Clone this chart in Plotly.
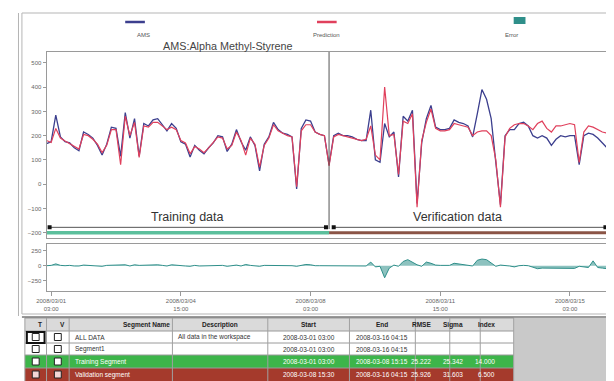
import plotly.graph_objects as go
import pandas as pd

# page body has an 8px margin: figure is shifted by it
OFF = 8
W, H = 614 - OFF, 381 - OFF
FONT = "Liberation Sans, Arial, sans-serif"

# ---------------- data ----------------
start_time = "2008-03-01 00:00"
n_points = 122
times = pd.date_range(start_time, periods=n_points, freq="3h")

ams = [167,175,285,195,175,170,150,138,215,205,190,160,120,165,235,230,115,295,190,270,
       115,250,240,265,270,245,220,250,230,175,165,112,160,140,125,150,170,200,195,135,
       165,225,175,140,195,160,55,165,195,255,225,210,205,195,-20,230,265,260,215,205,200,
       80,200,210,200,200,195,185,180,180,305,100,90,250,195,215,30,280,260,305,-80,
       170,270,325,235,225,225,230,265,255,250,240,195,290,390,350,270,90,-85,200,225,
       225,250,255,240,200,190,200,190,160,185,200,195,200,200,80,200,210,205,190,170,150]

prediction = [180,172,230,190,178,168,155,145,205,200,185,165,130,160,225,225,80,280,200,255,
              110,240,235,255,255,240,225,235,225,180,170,125,155,145,130,150,175,195,190,145,
              160,215,180,120,190,165,70,160,190,245,220,210,200,195,-10,220,245,245,215,205,200,
              75,195,205,200,195,190,185,180,185,240,120,100,400,200,205,40,260,250,290,-95,
              180,255,310,230,220,220,225,250,245,240,235,200,215,220,220,200,100,-95,195,230,
              245,250,250,240,225,250,260,230,215,240,240,245,250,245,90,215,240,235,225,215,210]

error = [0,5,30,5,0,5,-5,-5,10,5,5,-5,-10,5,10,5,20,15,-5,15,
         5,10,5,10,15,5,-5,15,5,-5,-5,-10,5,-5,-5,0,-5,5,5,-10,
         5,10,-5,20,5,-5,-10,5,5,10,5,0,5,0,-10,10,20,15,0,0,0,
         5,5,5,0,5,5,0,0,-5,60,-20,-10,-200,-40,10,-10,70,100,60,15,
         -10,60,40,10,5,5,5,40,30,20,5,-5,90,110,100,50,-10,10,5,-5,
         -20,0,5,0,-25,-50,-40,-40,-50,-45,-40,-45,-50,-45,-10,-15,-30,80,-30,-40,-50]

x_range = ["2008-03-01 00:00", "2008-03-16 05:00"]
divider_time = "2008-03-08 15:00"
train_span = ["2008-03-01 02:00", "2008-03-08 13:00"]
verif_span = ["2008-03-08 18:00", "2008-03-16 02:00"]
train_label_time = "2008-03-04 19:00"
verif_label_time = "2008-03-12 02:00"

x_tickvals = ["2008-03-01 03:00", "2008-03-04 15:00", "2008-03-08 03:00",
              "2008-03-11 15:00", "2008-03-15 03:00"]
x_ticktext = ["2008/03/01<br>03:00", "2008/03/04<br>15:00", "2008/03/08<br>03:00",
              "2008/03/11<br>15:00", "2008/03/15<br>03:00"]
main_ticks = [-200, -100, 0, 100, 200, 300, 400, 500]
resid_ticks = [-250, 0, 250]

table_header = ["T", "V", "Segment Name", "Description", "Start", "End", "RMSE", "Sigma", "Index"]
table_rows = [
    ["", "", "ALL DATA", "All data in the workspace", "2008-03-01 03:00", "2008-03-16 04:15", "", "", ""],
    ["", "", "Segment1", "", "2008-03-01 03:00", "2008-03-16 04:15", "", "", ""],
    ["", "", "Training Segment", "", "2008-03-01 03:00", "2008-03-08 15:15", "25.222", "25.342", "14.000"],
    ["", "", "Validation segment", "", "2008-03-08 15:30", "2008-03-16 04:15", "25.926", "31.603", "6.500"],
]
row_fills = ["#ffffff", "#ffffff", "#3db54a", "#a53a2c"]
row_text_colors = ["#333333", "#333333", "#ffffff", "#ffffff"]

# ---------------- style ----------------
BLUE = "#3c3f8e"
RED = "#e0405c"
TEAL = "#2f8f8a"
TRAIN_BAR = "#5cbf9c"
VERIF_BAR = "#8a5446"
AXIS = "#9a9a9a"

def px(x):
    return (x - OFF) / W

def py(y):
    return 1 - (y - OFF) / H

fig = go.Figure()

fig.add_trace(go.Scatter(x=times, y=ams, mode="lines", line=dict(color=BLUE, width=1.3),
                         xaxis="x", yaxis="y", showlegend=False, name="AMS"))
fig.add_trace(go.Scatter(x=times, y=prediction, mode="lines", line=dict(color=RED, width=1.2),
                         xaxis="x", yaxis="y", showlegend=False, name="Prediction"))

# segment arrows
for span in (train_span, verif_span):
    fig.add_trace(go.Scatter(x=span, y=[-178, -178], mode="lines+markers",
                             line=dict(color="#555555", width=1),
                             marker=dict(symbol="square", size=4, color="#111111"),
                             xaxis="x", yaxis="y", showlegend=False, hoverinfo="skip"))
# segment bars
fig.add_trace(go.Scatter(x=[x_range[0], divider_time], y=[-200, -200], mode="lines",
                         line=dict(color=TRAIN_BAR, width=3.5), xaxis="x", yaxis="y",
                         showlegend=False, hoverinfo="skip"))
fig.add_trace(go.Scatter(x=[divider_time, times[-1]], y=[-200, -200], mode="lines",
                         line=dict(color=VERIF_BAR, width=3), xaxis="x", yaxis="y",
                         showlegend=False, hoverinfo="skip"))

# residual
fig.add_trace(go.Scatter(x=times, y=error, mode="lines", line=dict(color=TEAL, width=1),
                         fill="tozeroy", fillcolor="rgba(47,143,138,0.55)",
                         xaxis="x2", yaxis="y2", showlegend=False, name="Error"))

shapes = []
annotations = []

# divider
shapes.append(dict(type="line", xref="x", yref="y", x0=divider_time, x1=divider_time,
                   y0=-185, y1=545, line=dict(color="#555555", width=1)))

# outer frame
shapes.append(dict(type="rect", xref="paper", yref="paper", x0=px(12), x1=px(613),
                   y0=py(314), y1=py(13), line=dict(color="#b5b5b5", width=1)))
shapes.append(dict(type="line", xref="paper", yref="paper", x0=px(8.5), x1=px(8.5),
                   y0=py(316), y1=py(13), line=dict(color="#b5b5b5", width=1)))

# legend
for x0, x1, col, label in [(117, 137, BLUE, "AMS"), (312, 332, RED, "Prediction")]:
    shapes.append(dict(type="line", xref="paper", yref="paper", x0=px(x0), x1=px(x1),
                       y0=py(22), y1=py(22), line=dict(color=col, width=2.5)))
    annotations.append(dict(x=px((x0 + x1) / 2), y=py(30), xref="paper", yref="paper",
                            text=label, showarrow=False, font=dict(size=6, color="#555", family=FONT)))
shapes.append(dict(type="rect", xref="paper", yref="paper", x0=px(512), x1=px(524),
                   y0=py(24), y1=py(17), fillcolor=TEAL, line=dict(width=0)))
annotations.append(dict(x=px(518), y=py(30), xref="paper", yref="paper", text="Error",
                        showarrow=False, font=dict(size=6, color="#555", family=FONT)))

# title
annotations.append(dict(x=px(222), y=py(38), xref="paper", yref="paper",
                        text="AMS:Alpha Methyl-Styrene", showarrow=False,
                        font=dict(size=10.8, color="#444", family=FONT)))

# segment labels
annotations.append(dict(x=train_label_time, y=-135, xref="x", yref="y", text="Training data",
                        showarrow=False, font=dict(size=12.5, color="#333", family=FONT)))
annotations.append(dict(x=verif_label_time, y=-135, xref="x", yref="y", text="Verification data",
                        showarrow=False, font=dict(size=12.5, color="#333", family=FONT)))

# ---------------- table ----------------
col_edges = [15, 37, 60, 165, 262, 345, 412, 447, 478, 512]
row_edges = [318, 331, 343, 355, 368, 381]

shapes.append(dict(type="rect", xref="paper", yref="paper", x0=px(512), x1=px(614),
                   y0=py(381), y1=py(318), fillcolor="#c9c9c9", line=dict(width=0), layer="below"))
shapes.append(dict(type="rect", xref="paper", yref="paper", x0=px(15), x1=px(512),
                   y0=py(331), y1=py(318), fillcolor="#dadada", line=dict(width=0), layer="below"))
for r, fill in enumerate(row_fills):
    shapes.append(dict(type="rect", xref="paper", yref="paper", x0=px(15), x1=px(512),
                       y0=py(row_edges[r + 2]), y1=py(row_edges[r + 1]), fillcolor=fill,
                       line=dict(width=0), layer="below"))
for ye in row_edges[:-1]:
    shapes.append(dict(type="line", xref="paper", yref="paper", x0=px(15), x1=px(512),
                       y0=py(ye), y1=py(ye), line=dict(color="#9a9a9a", width=1)))
shapes.append(dict(type="line", xref="paper", yref="paper", x0=px(12), x1=px(614),
                   y0=py(317), y1=py(317), line=dict(color="#777", width=1.5)))
for xe in col_edges:
    shapes.append(dict(type="line", xref="paper", yref="paper", x0=px(xe), x1=px(xe),
                       y0=py(381), y1=py(318), line=dict(color="#a0a0a0", width=1)))

def cell_center(c):
    return (col_edges[c] + col_edges[c + 1]) / 2

for c, txt in enumerate(table_header):
    annotations.append(dict(x=px(cell_center(c)), y=py(324.5), xref="paper", yref="paper",
                            text="<b>" + txt + "</b>", showarrow=False, yanchor="middle",
                            font=dict(size=6.5, color="#222", family=FONT)))

for r, row in enumerate(table_rows):
    yc = (row_edges[r + 1] + row_edges[r + 2]) / 2
    for c, txt in enumerate(row):
        if not txt:
            continue
        if c in (2, 3):
            annotations.append(dict(x=px(col_edges[c] + 4), y=py(yc), xref="paper", yref="paper",
                                    text=txt, showarrow=False, xanchor="left", yanchor="middle",
                                    font=dict(size=6.5, color=row_text_colors[r], family=FONT)))
        else:
            annotations.append(dict(x=px(cell_center(c)), y=py(yc), xref="paper", yref="paper",
                                    text=txt, showarrow=False, yanchor="middle",
                                    font=dict(size=6.5, color=row_text_colors[r], family=FONT)))
    for c in (0, 1):
        xc = cell_center(c)
        shapes.append(dict(type="rect", xref="paper", yref="paper", x0=px(xc - 3.5), x1=px(xc + 3.5),
                           y0=py(yc + 3.5), y1=py(yc - 3.5),
                           fillcolor="#ffffff" if r < 3 else "#f3d6d6",
                           line=dict(color="#222", width=1)))
# selected marker around ALL DATA T checkbox
shapes.append(dict(type="rect", xref="paper", yref="paper", x0=px(17), x1=px(35),
                   y0=py(343), y1=py(332), line=dict(color="#111", width=2)))

axis_font = dict(size=6, color="#666", family=FONT)
domain_x = [px(37), px(610)]

fig.update_layout(
    width=W, height=H,
    margin=dict(l=0, r=0, t=0, b=0),
    paper_bgcolor="white", plot_bgcolor="white",
    showlegend=False,
    shapes=shapes, annotations=annotations,
    xaxis=dict(domain=domain_x, range=x_range, anchor="y", showticklabels=False,
               showline=True, mirror=True, linecolor=AXIS, showgrid=False, zeroline=False,
               ticks=""),
    yaxis=dict(domain=[py(238), py(52)], range=[-222, 545], anchor="x",
               tickvals=main_ticks, ticks="outside", ticklen=3, tickcolor=AXIS,
               tickfont=axis_font, showline=True, mirror=True, linecolor=AXIS,
               showgrid=False, zeroline=False),
    xaxis2=dict(domain=domain_x, range=x_range, anchor="y2", tickvals=x_tickvals,
                ticktext=x_ticktext, ticks="outside", ticklen=4, tickcolor=AXIS,
                tickfont=axis_font, showline=True, mirror=True, linecolor=AXIS,
                showgrid=False, zeroline=False),
    yaxis2=dict(domain=[py(291), py(244)], range=[-420, 360], anchor="x2",
                tickvals=resid_ticks, ticks="outside", ticklen=3, tickcolor=AXIS,
                tickfont=axis_font, showline=True, mirror=True, linecolor=AXIS,
                showgrid=False, zeroline=False),
)

fig.write_html("out.html")
